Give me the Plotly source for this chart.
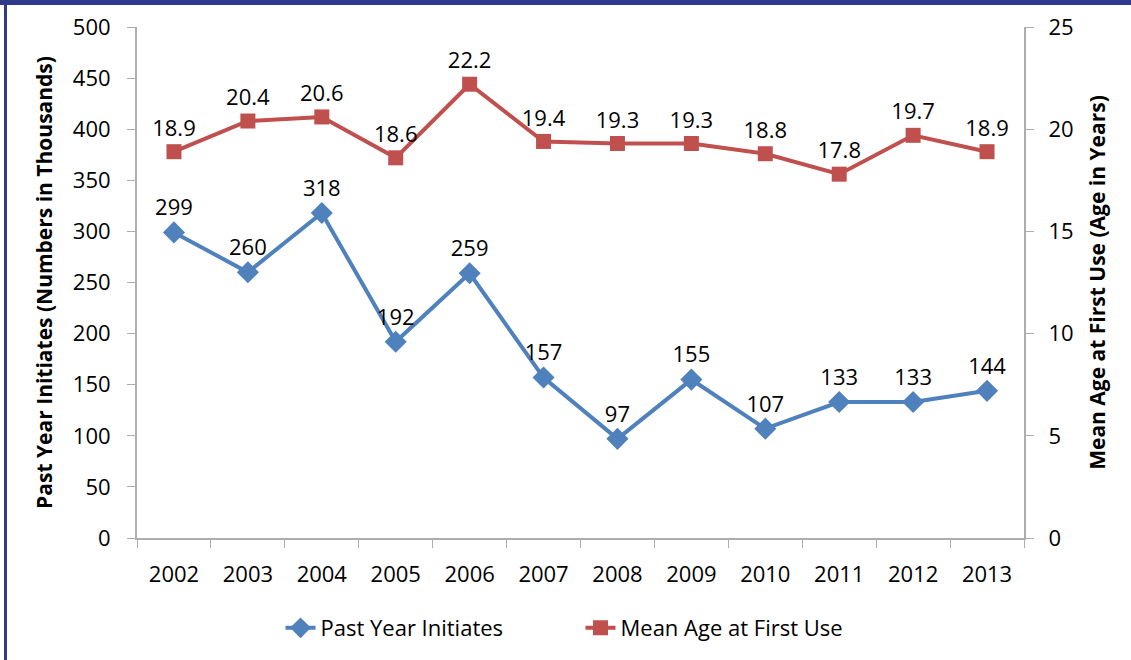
import plotly.graph_objects as go

years = ["2002", "2003", "2004", "2005", "2006", "2007",
         "2008", "2009", "2010", "2011", "2012", "2013"]
initiates = [299, 260, 318, 192, 259, 157, 97, 155, 107, 133, 133, 144]
mean_age = [18.9, 20.4, 20.6, 18.6, 22.2, 19.4, 19.3, 19.3, 18.8, 17.8, 19.7, 18.9]

blue = "#4F81BD"
red = "#C0504D"
axis_col = "#ADADAD"
font = "Open Sans"
fs = 22

fig = go.Figure()

fig.add_trace(go.Scatter(
    x=years, y=initiates, name="Past Year Initiates",
    mode="lines+markers+text",
    line=dict(color=blue, width=4),
    marker=dict(symbol="diamond", size=17, color=blue),
    text=[str(v) for v in initiates], textposition="top center",
    textfont=dict(size=fs, color="black", family=font),
    cliponaxis=False))

fig.add_trace(go.Scatter(
    x=years, y=mean_age, name="Mean Age at First Use", yaxis="y2",
    mode="lines+markers+text",
    line=dict(color=red, width=4),
    marker=dict(symbol="square", size=15, color=red),
    text=["%.1f" % v for v in mean_age], textposition="top center",
    textfont=dict(size=fs, color="black", family=font),
    cliponaxis=False))

L, R, T, B = 137, 107, 27, 122
W, H = 1131, 660
pw, ph = W - L - R, H - T - B

def px(x):
    return (x - L) / pw

def py(y):
    return (H - B - y) / ph

fig.update_layout(
    width=W, height=H,
    margin=dict(l=L, r=R, t=T, b=B, autoexpand=False),
    plot_bgcolor="white", paper_bgcolor="white",
    font=dict(family=font, size=fs, color="black"),
    showlegend=True,
    legend=dict(orientation="h", x=0.5, xanchor="center",
                y=py(628), yanchor="middle",
                font=dict(size=fs, family=font),
                entrywidth=255, entrywidthmode="pixels",
                tracegroupgap=0),
    xaxis=dict(type="category", range=[-0.5, 11.5],
               showline=True, linecolor=axis_col, linewidth=2,
               ticks="outside", ticklen=8, tickcolor=axis_col,
               tickson="boundaries", showgrid=False, zeroline=False,
               tickfont=dict(size=fs), ticklabelstandoff=16),
    yaxis=dict(range=[0, 500], dtick=50, showline=True, linecolor=axis_col,
               linewidth=2, ticks="outside", ticklen=8, tickcolor=axis_col,
               showgrid=False, zeroline=False, tickfont=dict(size=fs),
               ticklabelstandoff=12,
               title=dict(text="<b>Past Year Initiates (Numbers in Thousands)</b>",
                          font=dict(size=21), standoff=14)),
    yaxis2=dict(range=[0, 25], dtick=5, overlaying="y", side="right",
                showline=True, linecolor=axis_col, linewidth=2,
                ticks="outside", ticklen=8, tickcolor=axis_col,
                showgrid=False, zeroline=False, tickfont=dict(size=fs),
                ticklabelstandoff=10,
                title=dict(text="<b>Mean Age at First Use (Age in Years)</b>",
                           font=dict(size=21), standoff=18)),
    shapes=[
        dict(type="rect", xref="paper", yref="paper",
             x0=px(0), x1=px(W), y0=py(5), y1=py(0),
             fillcolor="#2E3A8C", line_width=0, layer="above"),
        dict(type="rect", xref="paper", yref="paper",
             x0=px(4), x1=px(7), y0=py(H), y1=py(0),
             fillcolor="#2E3A8C", line_width=0, layer="above"),
    ],
)

fig.write_html("out.html", config={"displayModeBar": False},
               post_script="document.body.style.margin='0';")
